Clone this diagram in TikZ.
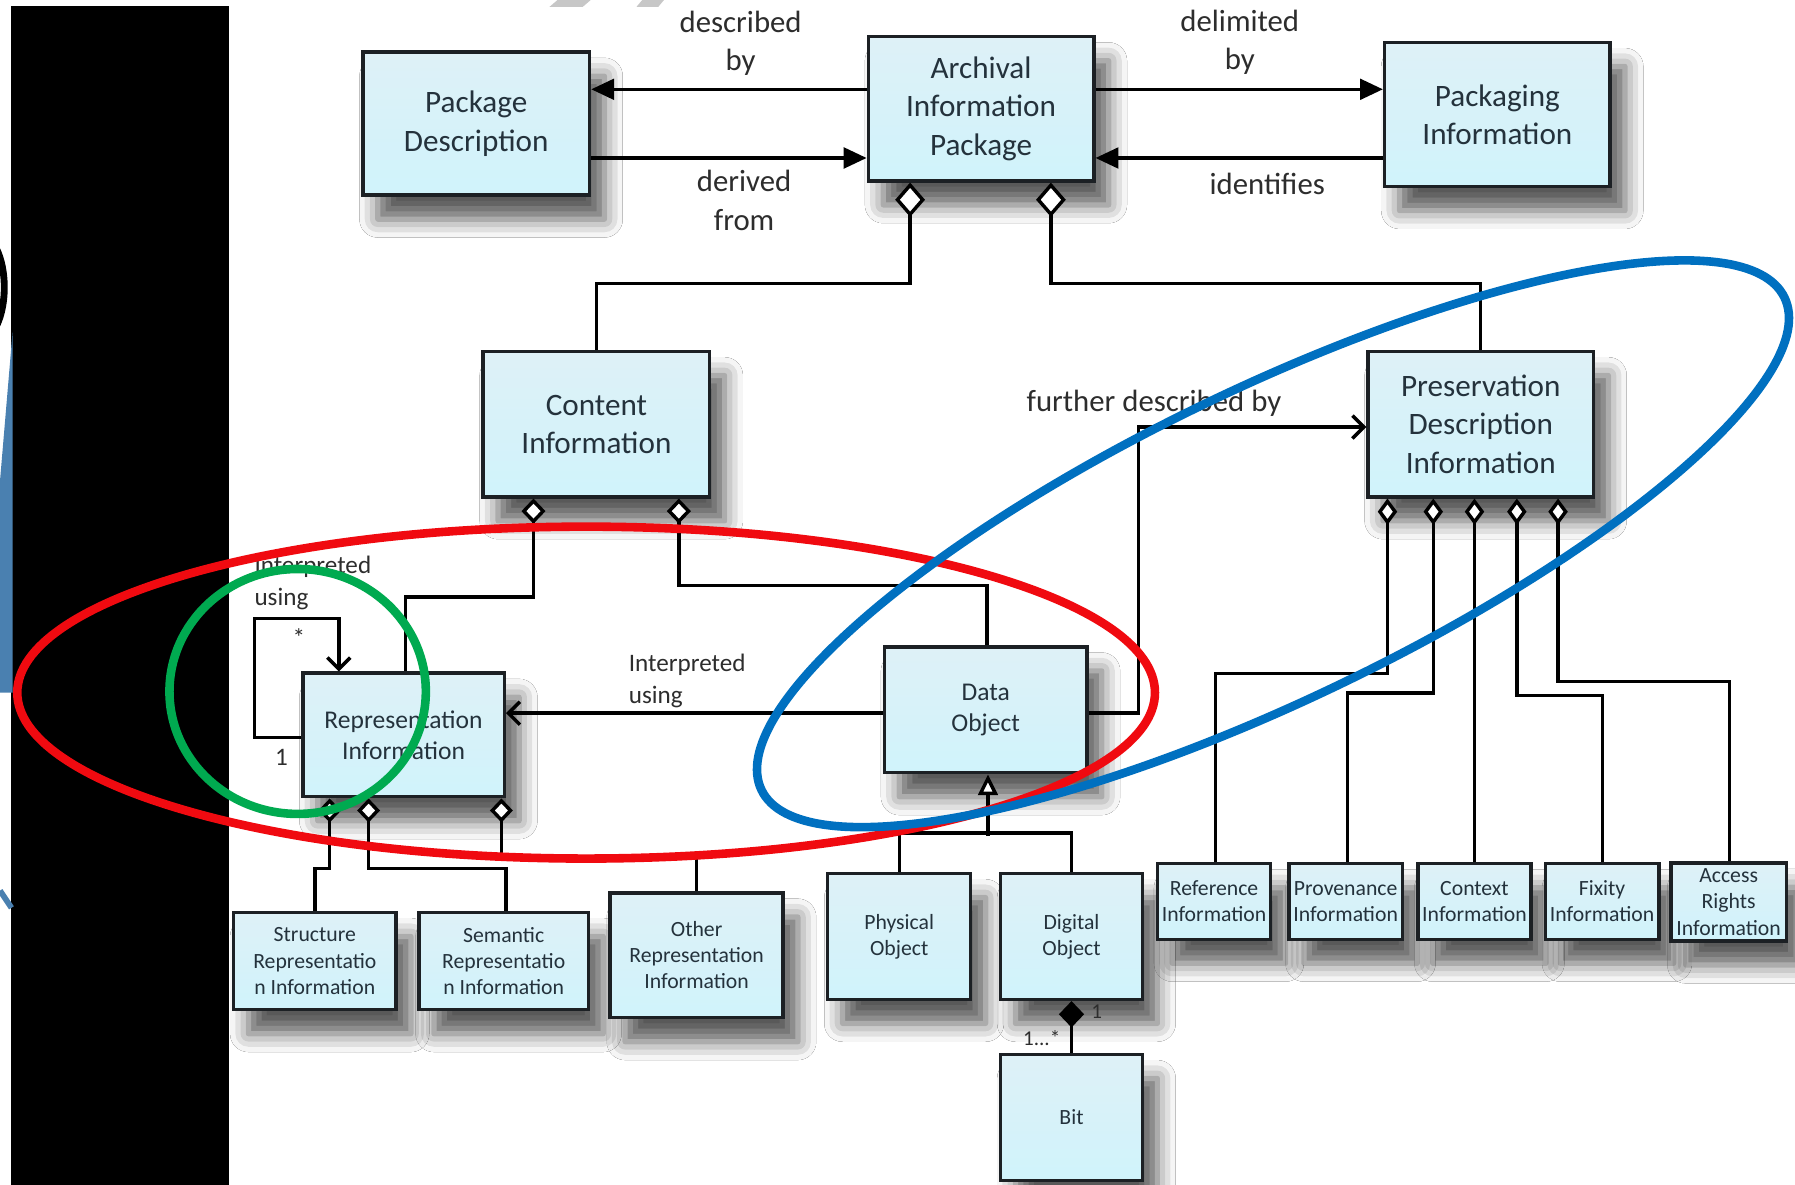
\documentclass[tikz,border=0pt]{standalone}
\usepackage{fontspec}
\setmainfont{Carlito}
\usetikzlibrary{arrows.meta,calc,shadows.blur}
\definecolor{boxtop}{RGB}{222,241,247}
\definecolor{boxmid}{RGB}{184,222,234}
\definecolor{boxbot}{RGB}{208,243,251}
\definecolor{boxline}{RGB}{28,32,36}
\definecolor{boxtext}{RGB}{36,50,60}
\definecolor{lbltext}{RGB}{45,45,45}
\definecolor{ovred}{RGB}{240,10,16}
\definecolor{ovblue}{RGB}{0,112,192}
\definecolor{ovgreen}{RGB}{0,170,80}
\definecolor{edgeblue}{RGB}{74,128,176}

\begin{document}
\begin{tikzpicture}[x=0.02cm, y=-0.02cm,
    infobox/.style={draw=boxline, line width=0.06cm, top color=boxtop, middle color=boxmid, bottom color=boxbot,
      text=boxtext, align=center, inner sep=0pt, font=\fontsize{15.5}{19}\selectfont,
      blur shadow={shadow xshift=0.26cm, shadow yshift=-0.42cm, shadow blur radius=0.32cm, shadow opacity=65}},
    midbox/.style={infobox, font=\fontsize{12.7}{15.4}\selectfont},
    smallbox/.style={infobox, font=\fontsize{10.8}{13}\selectfont},
    lbl/.style={text=lbltext, align=center, inner sep=0pt, font=\fontsize{15.3}{19}\selectfont},
    smalllbl/.style={lbl, align=left, font=\fontsize{12.5}{15.8}\selectfont},
    conn/.style={line width=0.06cm},
    flow/.style={conn, -{Triangle[length=0.4cm, width=0.36cm]}},
    uses/.style={conn, -{Straight Barb[length=0.2cm, width=0.4cm]}},
    owns/.style={conn, {Diamond[fill=white, #1]}-},
    owns/.default={length=0.44cm, width=0.42cm},
    ring/.style={line width=0.15cm}]

  \useasboundingbox (0,0) rectangle (1568,1035);
  \fill[white] (0,0) rectangle (1568,1035);
  \fill[black] (10,5) rectangle (200,1035);
  \fill[edgeblue] (11,290) -- (11,605) -- (0,605) -- (0,420) -- cycle;
  \draw[edgeblue, line width=0.1cm] (0,778) -- (10,793);
  \draw[line width=0.12cm] (-6,212) .. controls (7,232) and (7,270) .. (-6,290);
  \fill[black!22] (480,6) -- (487,0) -- (516,0) -- (509,6) -- cycle;
  \fill[black!22] (556,6) -- (561,0) -- (580,0) -- (575,6) -- cycle;

  \node[infobox, minimum width=3.96cm, minimum height=2.5cm] (pd) at (416,108) {Package\\Description};
  \node[infobox, minimum width=3.94cm, minimum height=2.52cm] (aip) at (857,95) {Archival\\Information\\Package};
  \node[infobox, minimum width=3.94cm, minimum height=2.52cm] (pi) at (1308,100) {Packaging\\Information};
  \node[infobox, minimum width=3.96cm, minimum height=2.54cm] (ci) at (521,370.5) {Content\\Information};
  \node[infobox, minimum width=3.94cm, minimum height=2.54cm] (pdi) at (1293.5,370.5) {Preservation\\Description\\Information};
  \node[midbox, minimum width=3.52cm, minimum height=2.16cm] (ri) at (352.5,642) {Representation\\Information};
  \node[midbox, minimum width=3.54cm, minimum height=2.2cm] (do) at (861,620) {Data\\Object};
  \node[smallbox, minimum width=2.84cm, minimum height=1.7cm] (sri) at (275,839.5) {Structure\\Representatio\\n Information};
  \node[smallbox, minimum width=2.96cm, minimum height=1.7cm] (seri) at (440,839.5) {Semantic\\Representatio\\n Information};
  \node[smallbox, minimum width=3.02cm, minimum height=2.18cm] (ori) at (608.5,834.5) {Other\\Representation\\Information};
  \node[smallbox, minimum width=2.5cm, minimum height=2.2cm] (po) at (785.5,818) {Physical\\Object};
  \node[smallbox, minimum width=2.48cm, minimum height=2.2cm] (dgo) at (936,818) {Digital\\Object};
  \node[smallbox, minimum width=2.48cm, minimum height=2.2cm] (bit) at (936,976) {Bit};
  \node[smallbox, minimum width=1.98cm, minimum height=1.32cm] (refi) at (1060.5,787.5) {Reference\\Information};
  \node[smallbox, minimum width=1.98cm, minimum height=1.32cm] (provi) at (1175.5,787.5) {Provenance\\Information};
  \node[smallbox, minimum width=1.98cm, minimum height=1.32cm] (ctxi) at (1288,787.5) {Context\\Information};
  \node[smallbox, minimum width=1.98cm, minimum height=1.32cm] (fixi) at (1399.5,787.5) {Fixity\\Information};
  \node[smallbox, minimum width=2.02cm, minimum height=1.36cm] (ari) at (1510,788) {Access\\Rights\\Information};

  \draw[flow] ($(aip.west)+(0,-17)$) -- ($(pd.east)+(0,-30)$);
  \draw[flow] ($(pd.east)+(0,30)$) -- ($(aip.west)+(0,43)$);
  \draw[flow] ($(aip.east)+(0,-17)$) -- ($(pi.west)+(0,-22)$);
  \draw[flow] ($(pi.west)+(0,38)$) -- ($(aip.east)+(0,43)$);
  \draw[owns={length=0.6cm, width=0.52cm}] ($(aip.south)+(-62,0)$) |- ($(ci.north)+(0,-58)$) -- (ci.north);
  \draw[owns={length=0.6cm, width=0.52cm}] ($(aip.south)+(61,0)$) |- ($(pdi.north)+(0,-58)$) -- (pdi.north);
  \draw[owns] ($(ci.south)+(-55,0)$) |- ($(ri.north)+(1.5,-65)$) -- ($(ri.north)+(1.5,0)$);
  \draw[owns] ($(ci.south)+(72,0)$) |- ($(do.north)+(1,-52)$) -- ($(do.north)+(1,0)$);
  \draw[uses] ($(ri.west)+(0,2)$) -- ++(-40.5,0) |- ($(ri.north)+(-56.5,-46)$) -- ($(ri.north)+(-56.5,0)$);
  \draw[uses] ($(do.west)+(0,3)$) -- ($(ri.east)+(0,-19)$);
  \draw[uses] ($(do.east)+(0,3)$) -- ++(43.5,0) |- ($(pdi.west)+(0,2.5)$);
  \draw[conn, {Triangle[fill=white, length=0.36cm, width=0.34cm]}-] ($(do.south)+(2,0)$) -- ($(do.south)+(2,54)$);
  \draw[conn] (po.north) -- ++(0,-34) -| (dgo.north);
  \draw[conn, {Diamond[length=0.46cm, width=0.44cm]}-] (dgo.south) -- (bit.north);
  \draw[owns={length=0.42cm, width=0.4cm}] ($(ri.south)+(-64.5,0)$) |- ($(sri.north)+(0,-37)$) -- (sri.north);
  \draw[owns={length=0.42cm, width=0.4cm}] ($(ri.south)+(-30.5,0)$) |- ($(seri.north)+(2,-37)$) -- ($(seri.north)+(2,0)$);
  \draw[owns={length=0.42cm, width=0.4cm}] ($(ri.south)+(85.5,0)$) |- ($(ori.north)+(0,-30)$) -- (ori.north);
  \draw[owns={length=0.46cm, width=0.34cm}] ($(pdi.south)+(-81.5,0)$) |- ($(refi.north)+(1.5,-164.5)$) -- ($(refi.north)+(1.5,0)$);
  \draw[owns={length=0.46cm, width=0.34cm}] ($(pdi.south)+(-41.5,0)$) |- ($(provi.north)+(1.5,-147.5)$) -- ($(provi.north)+(1.5,0)$);
  \draw[owns={length=0.46cm, width=0.34cm}] ($(pdi.south)+(-5.5,0)$) -- (ctxi.north);
  \draw[owns={length=0.46cm, width=0.34cm}] ($(pdi.south)+(31.5,0)$) |- ($(fixi.north)+(0.5,-145.5)$) -- ($(fixi.north)+(0.5,0)$);
  \draw[owns={length=0.46cm, width=0.34cm}] ($(pdi.south)+(67.5,0)$) |- ($(ari.north)+(1,-157)$) -- ($(ari.north)+(1,0)$);

  \node[lbl] (ldesc) at (647,38) {described\\by};
  \node[lbl] (lderiv) at (650,175) {derived\\from};
  \node[lbl] (ldelim) at (1083,37) {delimited\\by};
  \node[lbl] (lident) at (1107,161) {identifies};
  \node[lbl] (lfurther) at (1008,352) {further described by};
  \node[smalllbl, anchor=west] (linterp) at (549,595) {Interpreted\\using};
  \node[smalllbl, anchor=west] (lself) at (222,509) {Interpreted\\using};
  \node[smalllbl] (lstar) at (261,557) {*};
  \node[smalllbl] (lone) at (246,662) {1};
  \node[lbl, font=\fontsize{10.5}{12}\selectfont] (lbitone) at (958,884) {1};
  \node[lbl, font=\fontsize{10.5}{12}\selectfont] (lmany) at (910,907) {1...*};

  \draw[ring, ovred] (512,605) ellipse [x radius=9.94cm, y radius=2.9cm];
  \draw[ring, ovblue, shift={(1112,475)}, rotate=25.7] (0,0) ellipse [x radius=9.92cm, y radius=2.72cm];
  \draw[ring, ovgreen] (260,604) ellipse [x radius=2.24cm, y radius=2.14cm];
\end{tikzpicture}
\end{document}
